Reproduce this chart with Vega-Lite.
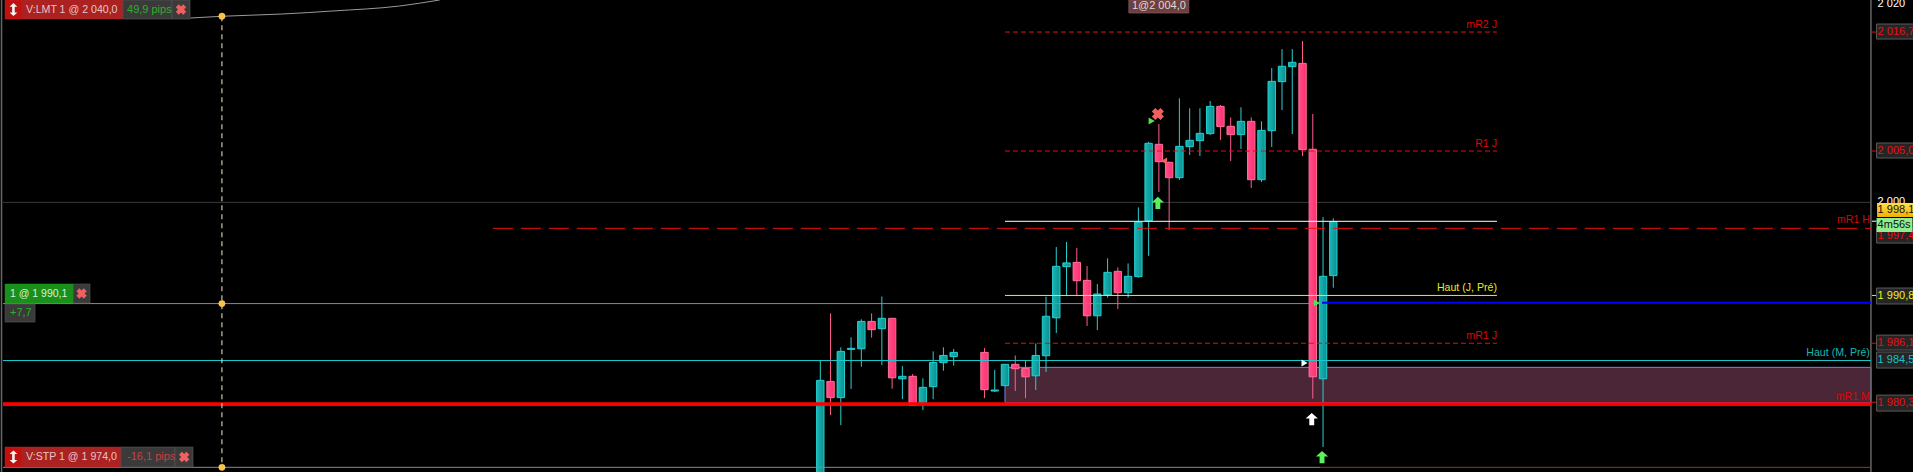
{"$schema":"https://vega.github.io/schema/vega-lite/v6.json","width":1913,"height":472,"autosize":{"type":"none"},"padding":0,"background":"#000000","config":{"view":{"stroke":null},"text":{"font":"Liberation Sans","baseline":"middle"}},
"datasets":{"candles":[
{"x":0,"open":1972,"high":1984.35,"low":1972,"close":1982.45},
{"x":1,"open":1982.35,"high":1989.04,"low":1979.04,"close":1980.75},
{"x":2,"open":1980.75,"high":1985.7,"low":1978.05,"close":1985.3},
{"x":3,"open":1985.5,"high":1986.68,"low":1981.6,"close":1985.6},
{"x":4,"open":1985.56,"high":1988.45,"low":1983.8,"close":1988.25},
{"x":5,"open":1988.25,"high":1989.04,"low":1986.65,"close":1987.43},
{"x":6,"open":1987.53,"high":1990.7,"low":1983.95,"close":1988.55},
{"x":7,"open":1988.55,"high":1988.55,"low":1981.63,"close":1982.7},
{"x":8,"open":1982.6,"high":1983.86,"low":1980.6,"close":1982.85},
{"x":9,"open":1982.85,"high":1983.07,"low":1979.93,"close":1980.0},
{"x":10,"open":1980.18,"high":1982.65,"low":1979.53,"close":1981.76},
{"x":11,"open":1981.83,"high":1985.3,"low":1980.6,"close":1984.2},
{"x":12,"open":1984.19,"high":1985.7,"low":1983.4,"close":1984.9},
{"x":13,"open":1984.78,"high":1985.53,"low":1983.9,"close":1985.2},
{"x":16,"open":1985.2,"high":1985.63,"low":1980.7,"close":1981.53},
{"x":17,"open":1981.4,"high":1983.47,"low":1981.3,"close":1981.5},
{"x":18,"open":1981.93,"high":1984.03,"low":1981.93,"close":1984.03},
{"x":19,"open":1984.03,"high":1984.9,"low":1981.4,"close":1983.6},
{"x":20,"open":1983.63,"high":1984.35,"low":1980.7,"close":1982.8},
{"x":21,"open":1982.9,"high":1986.09,"low":1981.5,"close":1984.9},
{"x":22,"open":1984.87,"high":1990.68,"low":1983.27,"close":1988.75},
{"x":23,"open":1988.6,"high":1995.56,"low":1987.1,"close":1993.66},
{"x":24,"open":1993.63,"high":1996.05,"low":1990.78,"close":1994.0},
{"x":25,"open":1994.05,"high":1995.46,"low":1990.78,"close":1992.25},
{"x":26,"open":1992.28,"high":1993.69,"low":1987.8,"close":1988.8},
{"x":27,"open":1988.8,"high":1991.92,"low":1987.4,"close":1990.94},
{"x":28,"open":1990.84,"high":1994.45,"low":1990.58,"close":1993.07},
{"x":29,"open":1993.17,"high":1993.56,"low":1989.46,"close":1991.07},
{"x":30,"open":1991.07,"high":1993.95,"low":1990.58,"close":1992.68},
{"x":31,"open":1992.65,"high":1999.46,"low":1992.55,"close":1998.0},
{"x":32,"open":1998.15,"high":2005.9,"low":1994.7,"close":2005.76},
{"x":33,"open":2005.66,"high":2007.66,"low":2000.97,"close":2003.95},
{"x":34,"open":2003.89,"high":2003.95,"low":1997.23,"close":2002.38},
{"x":35,"open":2002.38,"high":2010.18,"low":2002.15,"close":2005.46},
{"x":36,"open":2005.43,"high":2009.2,"low":2004.61,"close":2006.05},
{"x":37,"open":2006.02,"high":2009.2,"low":2004.51,"close":2006.74},
{"x":38,"open":2006.71,"high":2009.92,"low":2006.58,"close":2009.39},
{"x":39,"open":2009.39,"high":2009.53,"low":2006.08,"close":2007.4},
{"x":40,"open":2007.43,"high":2008.31,"low":2004.02,"close":2006.61},
{"x":41,"open":2006.61,"high":2009.3,"low":2005.2,"close":2007.92},
{"x":42,"open":2007.92,"high":2008.31,"low":2001.36,"close":2002.18},
{"x":43,"open":2002.18,"high":2007.92,"low":2001.95,"close":2007.03},
{"x":44,"open":2007.0,"high":2013.16,"low":2005.4,"close":2011.85},
{"x":45,"open":2011.82,"high":2015.03,"low":2009.03,"close":2013.33},
{"x":46,"open":2013.3,"high":2015.03,"low":2006.67,"close":2013.72},
{"x":47,"open":2013.62,"high":2015.82,"low":2004.51,"close":2005.13},
{"x":48,"open":2005.17,"high":2008.64,"low":1980.65,"close":1982.8},
{"x":49,"open":1982.6,"high":1998.51,"low":1975.9,"close":1992.68},
{"x":50,"open":1992.75,"high":1998.38,"low":1991.56,"close":1998.05}
]},
"encoding":{"x":{"field":"x","type":"quantitative","axis":null,"scale":{"domain":[-79.95,106.5],"nice":false,"zero":false,"padding":0}},"y":{"field":"y","type":"quantitative","axis":null,"scale":{"domain":[1973.44,2019.85],"nice":false,"zero":false}},"x2":{"field":"x2"},"y2":{"field":"y2"}},
"layer":[
{"data":{"values":[{"x":-79.66,"x2":102.4,"y":1999.95}]},"mark":{"type":"rule","stroke":"#3a3a3a","strokeWidth":1},"encoding":{"y2":null}},
{"data":{"values":[{"x":18.0,"x2":102.4,"y":1983.73,"y2":1980.25}]},"mark":{"type":"rect","fill":"#4a2637","stroke":"#6f86e8","strokeWidth":1}},
{"data":{"values":[{"x":102.4,"x2":102.4,"y":2019.85,"y2":1973.44},{"x":-79.8,"x2":-79.8,"y":2019.85,"y2":1973.44}]},"mark":{"type":"rule","stroke":"#666666","strokeWidth":1.5},"encoding":{"x2":null}},
{"data":{"name":"candles"},"transform":[{"filter":"datum.close >= datum.open"}],"mark":{"type":"rule","stroke":"#2ccfcf","strokeWidth":1,"clip":true},"encoding":{"x2":null,"y":{"field":"low","type":"quantitative","axis":null,"scale":{"domain":[1973.44,2019.85],"nice":false,"zero":false}},"y2":{"field":"high"}}},
{"data":{"name":"candles"},"transform":[{"filter":"datum.close < datum.open"}],"mark":{"type":"rule","stroke":"#ff5f90","strokeWidth":1,"clip":true},"encoding":{"x2":null,"y":{"field":"low","type":"quantitative","axis":null,"scale":{"domain":[1973.44,2019.85],"nice":false,"zero":false}},"y2":{"field":"high"}}},
{"data":{"name":"candles"},"transform":[{"filter":"datum.close >= datum.open"}],"mark":{"type":"bar","size":7.4,"clip":true,"stroke":"#25d0d0","strokeWidth":1,"fill":{"x1":0,"y1":0,"x2":1,"y2":0,"gradient":"linear","stops":[{"offset":0,"color":"#1bb5b5"},{"offset":1,"color":"#0a9090"}]}},"encoding":{"x2":null,"y":{"field":"open","type":"quantitative","axis":null,"scale":{"domain":[1973.44,2019.85],"nice":false,"zero":false}},"y2":{"field":"close"}}},
{"data":{"name":"candles"},"transform":[{"filter":"datum.close < datum.open"}],"mark":{"type":"bar","size":7.4,"clip":true,"stroke":"#ff6f9c","strokeWidth":1,"fill":{"x1":0,"y1":0,"x2":1,"y2":0,"gradient":"linear","stops":[{"offset":0,"color":"#ff4f88"},{"offset":1,"color":"#ff2f70"}]}},"encoding":{"x2":null,"y":{"field":"open","type":"quantitative","axis":null,"scale":{"domain":[1973.44,2019.85],"nice":false,"zero":false}},"y2":{"field":"close"}}},
{"data":{"values":[{"x":-79.66,"x2":48.7,"y":1990.0},{"x":-79.66,"x2":48.7,"y":1973.9}]},"mark":{"type":"rule","stroke":"#8a8a8a","strokeWidth":1},"encoding":{"y2":null}},
{"data":{"values":[{"x":48.7,"x2":102.4,"y":1973.9}]},"mark":{"type":"rule","stroke":"#a03030","strokeWidth":1},"encoding":{"y2":null}},
{"data":{"values":[{"x":48.9,"x2":102.4,"y":1990.08}]},"mark":{"type":"rule","stroke":"#0000ff","strokeWidth":2},"encoding":{"y2":null}},
{"data":{"values":[{"x":-79.66,"x2":102.4,"y":1984.4}]},"mark":{"type":"rule","stroke":"#19cccc","strokeWidth":1},"encoding":{"y2":null}},
{"data":{"values":[{"x":-79.66,"x2":102.4,"y":1979.96}]},"mark":{"type":"rule","stroke":"#555555","strokeWidth":1},"encoding":{"y2":null}},
{"data":{"values":[{"x":-79.66,"x2":102.4,"y":1980.15}]},"mark":{"type":"rule","stroke":"#ff0000","strokeWidth":3},"encoding":{"y2":null}},
{"data":{"values":[{"x":18.0,"x2":65.95,"y":1998.09}]},"mark":{"type":"rule","stroke":"#ffffff","strokeWidth":1},"encoding":{"y2":null}},
{"data":{"values":[{"x":18.0,"x2":65.95,"y":1990.8}]},"mark":{"type":"rule","stroke":"#f0f000","strokeWidth":1},"encoding":{"y2":null}},
{"data":{"values":[{"x":18.0,"x2":65.95,"y":2016.7},{"x":18.0,"x2":65.95,"y":2005.0},{"x":18.0,"x2":65.95,"y":1986.1}]},"mark":{"type":"rule","stroke":"#e01010","strokeWidth":1,"strokeDash":[5,3]},"encoding":{"y2":null}},
{"data":{"values":[{"x":-31.9,"x2":102.4,"y":1997.4}]},"mark":{"type":"rule","stroke":"#ee1111","strokeWidth":1,"strokeDash":[20,8]},"encoding":{"y2":null}},
{"data":{"values":[{"x":-58.32,"x2":-58.32,"y":2018.25,"y2":1973.9}]},"mark":{"type":"rule","stroke":"#f5ecd0","strokeWidth":1,"strokeDash":[5,4]},"encoding":{"x2":null}},
{"data":{"values":[{"x":-61.4,"y":2018.08},{"x":-58.3,"y":2018.25},{"x":-52.5,"y":2018.47},{"x":-47.5,"y":2018.77},{"x":-41,"y":2019.26},{"x":-37.1,"y":2019.85}]},"mark":{"type":"line","stroke":"#9a9a9a","strokeWidth":1,"interpolate":"monotone"},"encoding":{"x2":null,"y2":null}},
{"data":{"values":[{"x":-58.32,"y":2018.25},{"x":-58.32,"y":1990.0},{"x":-58.32,"y":1973.9}]},"mark":{"type":"point","filled":true,"fill":"#ffc23c","stroke":"#ffe08a","strokeWidth":0.5,"size":40,"opacity":1},"encoding":{"x2":null,"y2":null}},
{"data":{"values":[{"x":32.9,"y":1999.89},{"x":48.9,"y":1974.91}]},"mark":{"type":"point","filled":true,"fill":"#5cf05c","opacity":1,"size":150,"shape":"M0,-1 L1,-0.1 L0.4,-0.1 L0.4,1 L-0.4,1 L-0.4,-0.1 L-1,-0.1 Z"},"encoding":{"x2":null,"y2":null}},
{"data":{"values":[{"x":47.9,"y":1978.65}]},"mark":{"type":"point","filled":true,"fill":"#ffffff","opacity":1,"size":150,"shape":"M0,-1 L1,-0.1 L0.4,-0.1 L0.4,1 L-0.4,1 L-0.4,-0.1 L-1,-0.1 Z"},"encoding":{"x2":null,"y2":null}},
{"data":{"values":[{"x":32.3,"y":2007.95},{"x":48.4,"y":1990.05}]},"mark":{"type":"point","filled":true,"fill":"#55e055","opacity":1,"size":50,"shape":"triangle-right"},"encoding":{"x2":null,"y2":null}},
{"data":{"values":[{"x":33.5,"y":2004.02}]},"mark":{"type":"point","filled":true,"fill":"#f06060","opacity":1,"size":50,"shape":"triangle-left"},"encoding":{"x2":null,"y2":null}},
{"data":{"values":[{"x":47.2,"y":1984.15}]},"mark":{"type":"point","filled":true,"fill":"#ffffff","opacity":1,"size":50,"shape":"triangle-right"},"encoding":{"x2":null,"y2":null}},
{"data":{"values":[{"x":32.9,"y":2008.64}]},"mark":{"type":"point","filled":true,"fill":"#f06060","opacity":1,"size":150,"shape":"cross","angle":45},"encoding":{"x2":null,"y2":null}},
{"data":{"values":[{"x":-79.46,"x2":-77.8,"y":2019.85,"y2":2017.98},{"x":-79.46,"x2":-77.8,"y":1975.89,"y2":1973.93}]},"mark":{"type":"rect","fill":"#c01010","stroke":"#d02020","strokeWidth":0.5}},
{"data":{"values":[{"x":-77.8,"x2":-67.97,"y":2019.85,"y2":2017.98},{"x":-77.8,"x2":-68.16,"y":1975.89,"y2":1973.93}]},"mark":{"type":"rect","fill":"#aa2222","stroke":"#c02020","strokeWidth":0.5}},
{"data":{"values":[{"x":-67.97,"x2":-63.19,"y":2019.85,"y2":2017.98},{"x":-63.19,"x2":-61.43,"y":2019.85,"y2":2017.98},{"x":-68.16,"x2":-62.9,"y":1975.89,"y2":1973.93},{"x":-62.9,"x2":-61.14,"y":1975.89,"y2":1973.93},{"x":-72.84,"x2":-71.18,"y":1991.92,"y2":1990.05},{"x":-79.46,"x2":-76.54,"y":1989.96,"y2":1988.19}]},"mark":{"type":"rect","fill":"#3a3a3a","stroke":"#555555","strokeWidth":0.7}},
{"data":{"values":[{"x":-79.46,"x2":-72.84,"y":1991.92,"y2":1990.05}]},"mark":{"type":"rect","fill":"#1a8f1a","stroke":"#22a022","strokeWidth":0.5}},
{"data":{"values":[{"x":30.07,"x2":35.92,"y":2019.85,"y2":2018.57}]},"mark":{"type":"rect","fill":"#6b4040","stroke":"#8a5a5a","strokeWidth":0.7}},
{"data":{"values":[{"x":-62.31,"y":2018.91},{"x":-72.0,"y":1990.99},{"x":-62.0,"y":1974.91}]},"mark":{"type":"point","filled":true,"fill":"#f06060","opacity":1,"size":110,"shape":"cross","angle":45},"encoding":{"x2":null,"y2":null}},
{"data":{"values":[{"x":-78.64,"y":2018.91},{"x":-78.64,"y":1974.91}]},"mark":{"type":"point","filled":true,"fill":"#f4f4f4","opacity":1,"size":170,"shape":"M0,-1 L0.6,-0.45 L0.2,-0.45 L0.2,0.45 L0.6,0.45 L0,1 L-0.6,0.45 L-0.2,0.45 L-0.2,-0.45 L-0.6,-0.45 Z"},"encoding":{"x2":null,"y2":null}},
{"data":{"values":[{"x":-77.41,"y":2018.91,"label":"V:LMT  1 @ 2 040,0"},{"x":-77.41,"y":1974.91,"label":"V:STP  1 @ 1 974,0"}]},"mark":{"type":"text","fontSize":10.6,"align":"left","fill":"#e8c4c4"},"encoding":{"x2":null,"y2":null,"text":{"field":"label"}}},
{"data":{"values":[{"x":-67.57,"y":2018.91,"label":"49,9 pips"},{"x":-78.98,"y":1989.07,"label":"+7,7"}]},"mark":{"type":"text","fontSize":11,"align":"left","fill":"#2cb02c"},"encoding":{"x2":null,"y2":null,"text":{"field":"label"}}},
{"data":{"values":[{"x":-67.57,"y":1974.91,"label":"-16,1 pips"}]},"mark":{"type":"text","fontSize":11,"align":"left","fill":"#c84040"},"encoding":{"x2":null,"y2":null,"text":{"field":"label"}}},
{"data":{"values":[{"x":-78.98,"y":1990.99,"label":"1 @ 1 990,1"}]},"mark":{"type":"text","fontSize":10.5,"align":"left","fill":"#d8f0d8"},"encoding":{"x2":null,"y2":null,"text":{"field":"label"}}},
{"data":{"values":[{"x":33.0,"y":2019.28,"label":"1@2 004,0"}]},"mark":{"type":"text","fontSize":11,"align":"center","fill":"#e0d8d8"},"encoding":{"x2":null,"y2":null,"text":{"field":"label"}}},
{"data":{"values":[{"x":65.95,"y":2017.4,"label":"mR2 J"},{"x":65.95,"y":2005.7,"label":"R1 J"},{"x":65.95,"y":1986.85,"label":"mR1 J"},{"x":102.3,"y":1998.2,"label":"mR1 H"},{"x":102.3,"y":1980.85,"label":"mR1 M"}]},"mark":{"type":"text","fontSize":10.6,"align":"right","fill":"#d80808"},"encoding":{"x2":null,"y2":null,"text":{"field":"label"}}},
{"data":{"values":[{"x":65.95,"y":1991.55,"label":"Haut (J, Pré)"}]},"mark":{"type":"text","fontSize":10.6,"align":"right","fill":"#e8e820"},"encoding":{"x2":null,"y2":null,"text":{"field":"label"}}},
{"data":{"values":[{"x":102.3,"y":1985.15,"label":"Haut (M, Pré)"}]},"mark":{"type":"text","fontSize":10.6,"align":"right","fill":"#14b8b8"},"encoding":{"x2":null,"y2":null,"text":{"field":"label"}}},
{"data":{"values":[{"x":103.05,"y":2019.5,"label":"2 020"},{"x":103.05,"y":2000.0,"label":"2 000"}]},"mark":{"type":"text","fontSize":11,"align":"left","fill":"#ffffff"},"encoding":{"x2":null,"y2":null,"text":{"field":"label"}}},
{"data":{"values":[{"x":102.5,"x2":102.95,"y":2016.7},{"x":102.5,"x2":102.95,"y":2005.0},{"x":102.5,"x2":102.95,"y":1986.1},{"x":102.5,"x2":102.95,"y":1980.3}]},"mark":{"type":"rule","stroke":"#e01010","strokeWidth":1},"encoding":{"y2":null}},
{"data":{"values":[{"x":102.5,"x2":102.95,"y":1990.8}]},"mark":{"type":"rule","stroke":"#f0f000","strokeWidth":1},"encoding":{"y2":null}},
{"data":{"values":[{"x":102.5,"x2":102.95,"y":1998.1}]},"mark":{"type":"rule","stroke":"#ffffff","strokeWidth":1},"encoding":{"y2":null}},
{"data":{"values":[{"x":102.95,"x2":106.6,"y":2017.49,"y2":2016.01},{"x":102.95,"x2":106.6,"y":2005.79,"y2":2004.31},{"x":102.95,"x2":106.6,"y":1997.43,"y2":1995.95},{"x":102.95,"x2":106.6,"y":1991.53,"y2":1989.96},{"x":102.95,"x2":106.6,"y":1986.9,"y2":1985.43},{"x":102.95,"x2":106.6,"y":1985.24,"y2":1983.66},{"x":102.95,"x2":106.6,"y":1981.0,"y2":1979.43}]},"mark":{"type":"rect","fill":"#252525","stroke":"#5a5a5a","strokeWidth":1}},
{"data":{"values":[{"x":103.05,"y":2016.7,"label":"2 016,7"},{"x":103.05,"y":2005.0,"label":"2 005,0"},{"x":103.05,"y":1996.64,"label":"1 997,4"},{"x":103.05,"y":1986.12,"label":"1 986,1"},{"x":103.05,"y":1980.22,"label":"1 980,3"}]},"mark":{"type":"text","fontSize":11,"align":"left","fill":"#e81010"},"encoding":{"x2":null,"y2":null,"text":{"field":"label"}}},
{"data":{"values":[{"x":103.05,"y":1990.75,"label":"1 990,8"}]},"mark":{"type":"text","fontSize":11,"align":"left","fill":"#f0f020"},"encoding":{"x2":null,"y2":null,"text":{"field":"label"}}},
{"data":{"values":[{"x":103.05,"y":1984.45,"label":"1 984,5"}]},"mark":{"type":"text","fontSize":11,"align":"left","fill":"#18c0c8"},"encoding":{"x2":null,"y2":null,"text":{"field":"label"}}},
{"data":{"values":[{"x":103.0,"x2":106.6,"y":1999.89,"y2":1998.51}]},"mark":{"type":"rect","fill":{"x1":0,"y1":0,"x2":0,"y2":1,"gradient":"linear","stops":[{"offset":0,"color":"#ffe14d"},{"offset":1,"color":"#f0b000"}]}}},
{"data":{"values":[{"x":102.95,"x2":106.45,"y":1998.41,"y2":1997.04}]},"mark":{"type":"rect","fill":"#90ee90"}},
{"data":{"values":[{"x":103.05,"y":1999.2,"label":"1 998,1"},{"x":103.05,"y":1997.72,"label":"4m56s"}]},"mark":{"type":"text","fontSize":11,"align":"left","fill":"#101010"},"encoding":{"x2":null,"y2":null,"text":{"field":"label"}}}
]}
